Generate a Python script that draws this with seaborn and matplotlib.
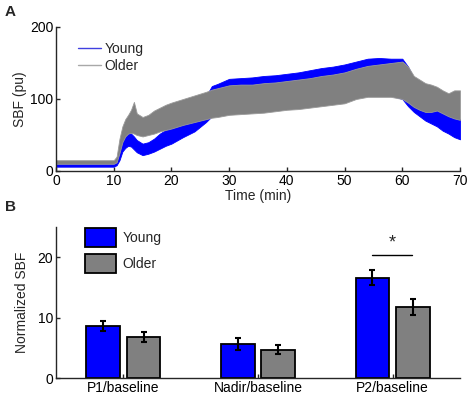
import numpy as np
import pandas as pd
import matplotlib
matplotlib.use("Agg")
import matplotlib.pyplot as plt
import seaborn as sns
from matplotlib.patches import Patch
from matplotlib.lines import Line2D

sns.set_theme(style="white")
plt.rcParams['font.family'] = ['Liberation Sans', 'DejaVu Sans']

# ---- Panel A data: envelopes of the SBF traces (pu) ----
time_min = [0, 2, 4, 6, 8, 10, 10.5, 11, 11.5, 12, 12.5, 13, 13.5, 14, 15, 16, 17, 18, 19, 20,
            22, 24, 26, 27, 28, 30, 32, 34, 36, 38, 40, 42, 44, 46, 48, 50, 52, 54, 56, 58,
            60, 61, 62, 63, 64, 65, 66, 67, 68, 69, 70]
older_low = [10, 10, 10, 10, 10, 10, 12, 25, 40, 48, 52, 53, 52, 50, 48, 50, 52, 55, 57, 59,
             64, 68, 72, 74, 75, 78, 79, 80, 81, 83, 85, 86, 88, 90, 92, 94, 100, 103, 103, 103,
             100, 95, 89, 85, 82, 82, 84, 80, 76, 73, 71]
older_high = [15, 15, 15, 15, 15, 15, 20, 45, 62, 72, 78, 85, 96, 80, 75, 78, 84, 88, 92, 95,
              100, 105, 110, 113, 115, 119, 120, 120, 122, 123, 125, 127, 129, 132, 134, 137, 142, 146, 148, 150,
              152, 145, 132, 127, 122, 120, 117, 112, 108, 112, 112]
young_low = [6, 6, 6, 6, 6, 6, 8, 15, 27, 32, 35, 34, 30, 26, 22, 24, 27, 31, 35, 38,
             47, 55, 68, 76, 77, 80, 81, 82, 83, 85, 87, 88, 90, 92, 94, 96, 102, 105, 105, 105,
             100, 90, 82, 76, 70, 66, 62, 56, 52, 47, 44]
young_high = [10, 10, 10, 10, 10, 10, 14, 30, 45, 53, 56, 52, 48, 43, 38, 40, 45, 52, 57, 62,
              68, 74, 104, 118, 121, 128, 129, 130, 132, 133, 135, 137, 140, 143, 145, 148, 152, 156, 157, 156,
              156, 145, 128, 120, 112, 105, 98, 90, 84, 78, 72]

# ---- Panel B data ----
measures = ["P1/baseline", "Nadir/baseline", "P2/baseline"]
young_mean = [8.6, 5.6, 16.6]
young_err = [0.9, 1.0, 1.2]
older_mean = [6.8, 4.7, 11.8]
older_err = [0.8, 0.7, 1.3]
groups = ["Young", "Older"]

BLUE = "#0000ff"
GRAY = "#808080"
AX = "#262626"

fig = plt.figure(figsize=(4.72, 3.97), dpi=100)
axA = fig.add_axes([56/472, 1-171/397, 404/472, 144/397])
axB = fig.add_axes([56/472, 1-378/397, 404/472, 151/397])

# Panel A
dfA = pd.DataFrame({"t": time_min, "yl": young_low, "yh": young_high,
                    "ol": older_low, "oh": older_high})
axA.fill_between(dfA["t"], dfA["yl"], dfA["yh"], color=BLUE, lw=0.6, edgecolor=BLUE)
axA.fill_between(dfA["t"], dfA["ol"], dfA["oh"], color=GRAY, lw=0.6, edgecolor="#9a9a9a")
axA.set_xlim(0, 70)
axA.set_ylim(0, 200)
axA.set_xticks(range(0, 71, 10))
axA.set_yticks([0, 100, 200])
axA.set_xlabel("Time (min)", fontsize=10, labelpad=1)
axA.set_ylabel("SBF (pu)", fontsize=10, labelpad=2)
axA.legend(handles=[Line2D([], [], color="#4040e0", lw=1.0),
                    Line2D([], [], color="#a8a8a8", lw=1.0)],
           labels=groups, loc="upper left", bbox_to_anchor=(0.035, 0.955),
           frameon=False, fontsize=10, handlelength=1.6, handletextpad=0.3,
           labelspacing=0.25, borderaxespad=0.2)

# Panel B
dfB = pd.DataFrame({
    "measure": measures * 2,
    "group": [groups[0]] * 3 + [groups[1]] * 3,
    "value": young_mean + older_mean,
    "err": young_err + older_err,
})
sns.barplot(data=dfB, x="measure", y="value", hue="group", order=measures,
            hue_order=groups, palette=[BLUE, GRAY], width=0.6, gap=1/6,
            edgecolor="black", linewidth=1.3, errorbar=None, saturation=1,
            legend=False, ax=axB)
offsets = {"Young": -0.15, "Older": 0.15}
for g, means, errs in [("Young", young_mean, young_err), ("Older", older_mean, older_err)]:
    xs = np.arange(len(measures)) + offsets[g]
    axB.errorbar(xs, means, yerr=errs, fmt="none", ecolor="black", elinewidth=1.5,
                 capsize=2.5, capthick=1.5, zorder=5)
axB.set_xlim(-0.5, 2.5)
axB.set_ylim(0, 25)
axB.set_yticks([0, 10, 20])
axB.set_xlabel("")
axB.set_ylabel("Normalized SBF", fontsize=10, labelpad=6)
axB.plot([1.85, 2.14], [20.4, 20.4], color="black", lw=1)
axB.text(2.0, 21.0, "*", ha="center", va="bottom", fontsize=13)
axB.legend(handles=[Patch(facecolor=BLUE, edgecolor="black", lw=1.3),
                    Patch(facecolor=GRAY, edgecolor="black", lw=1.3)],
           labels=groups, loc="upper left", bbox_to_anchor=(0.05, 1.05),
           frameon=False, fontsize=10, handlelength=2.3, handleheight=1.7,
           handletextpad=0.45, labelspacing=0.57, borderaxespad=0.2)

for ax in (axA, axB):
    sns.despine(ax=ax)
    for s in ("left", "bottom"):
        ax.spines[s].set_color(AX)
        ax.spines[s].set_linewidth(1.0)
    ax.tick_params(direction="in", length=3, width=1, color=AX, labelsize=10,
                   labelcolor="black", pad=2, bottom=True, left=True)

fig.text(5/472, 1-12/397, "A", fontsize=11, fontweight="bold", va="center", ha="left")
fig.text(5/472, 1-207/397, "B", fontsize=11, fontweight="bold", va="center", ha="left")

fig.savefig("out.png", dpi=100)
